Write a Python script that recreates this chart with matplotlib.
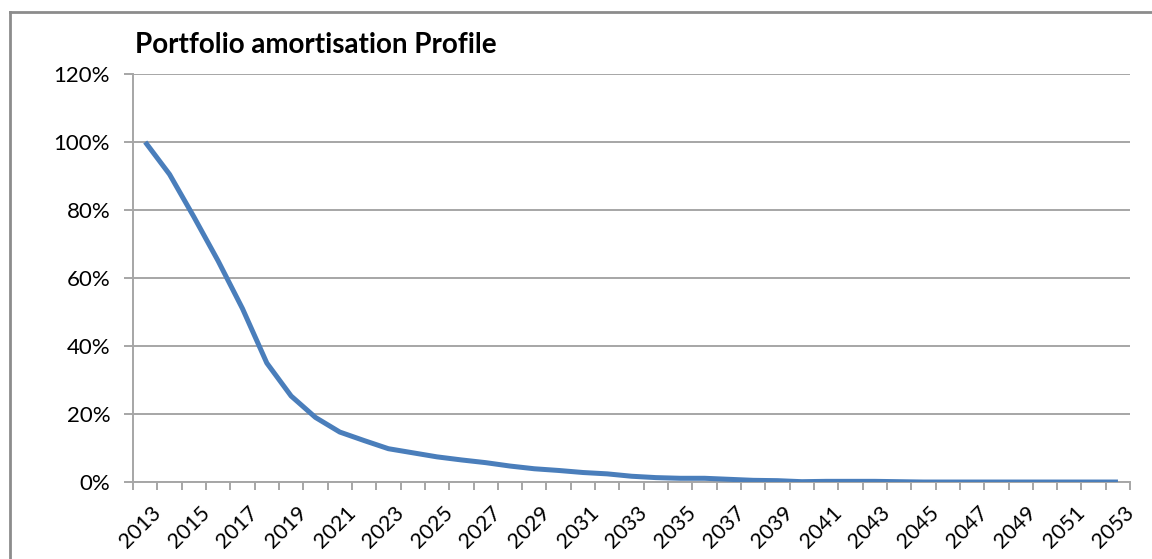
import numpy as np
import matplotlib
matplotlib.use("Agg")
import matplotlib.pyplot as plt
import matplotlib.transforms as mtransforms
from matplotlib.lines import Line2D
from matplotlib.ticker import FixedLocator, FuncFormatter

years = list(range(2013, 2054))
remaining = [100.0, 90.5, 78.0, 65.0, 51.0, 35.0, 25.3, 19.0, 14.7, 12.2, 9.8,
             8.6, 7.4, 6.5, 5.7, 4.7, 3.9, 3.4, 2.8, 2.4, 1.7, 1.3, 1.1, 1.1,
             0.8, 0.5, 0.4, 0.1, 0.2, 0.2, 0.2, 0.1, 0.0, 0.0, 0.0, 0.0, 0.0,
             0.0, 0.0, 0.0, 0.0]
yticks = [0, 20, 40, 60, 80, 100, 120]

plt.rcParams['font.family'] = ['Lato', 'DejaVu Sans']

fig = plt.figure(figsize=(11.52, 5.59), dpi=100)
ax = fig.add_axes([0.1155, 0.1377, 0.8655, 0.7299])

x = np.arange(len(years))
ax.plot(x, remaining, color='#4A7EBB', linewidth=3.6, solid_capstyle='butt',
        solid_joinstyle='round', zorder=3)

ax.set_xlim(-0.5, len(years) - 0.5)
ax.set_ylim(0, 120)

ax.yaxis.set_major_locator(FixedLocator(yticks))
ax.yaxis.set_major_formatter(FuncFormatter(lambda v, p: f"{v:.0f}%"))
ax.grid(axis='y', color='#A6A6A6', linewidth=1.4, zorder=0)

# category boundaries carry the tick marks, labels sit on every other category
ax.xaxis.set_minor_locator(FixedLocator(np.arange(-0.5, len(years), 1.0)))
ax.xaxis.set_major_locator(FixedLocator(x[::2]))
ax.set_xticklabels([str(y) for y in years[::2]], rotation=45, ha='right',
                   rotation_mode='anchor')
ax.tick_params(axis='x', which='major', length=0, pad=15, labelsize=15.5)
ax.tick_params(axis='x', which='minor', length=6, width=1.4, color='#A6A6A6')
ax.tick_params(axis='y', length=6.5, width=1.4, color='#A6A6A6', labelsize=16, pad=10)

shift = mtransforms.ScaledTranslation(4 / 72, 0, fig.dpi_scale_trans)
for lbl in ax.get_xticklabels():
    lbl.set_transform(lbl.get_transform() + shift)

for side in ['top', 'right']:
    ax.spines[side].set_visible(False)
for side in ['left', 'bottom']:
    ax.spines[side].set_color('#A6A6A6')
    ax.spines[side].set_linewidth(1.4)

fig.text(0.117, 0.905, "Portfolio amortisation Profile", fontsize=20,
         fontweight='bold', ha='left', va='baseline')

# outer chart frame (only left and top edges visible)
fig.add_artist(Line2D([0.0085, 0.0085], [0.0, 0.979], color='#8C8C8C', linewidth=2,
                      transform=fig.transFigure))
fig.add_artist(Line2D([0.0085, 1.0], [0.979, 0.979], color='#8C8C8C', linewidth=2,
                      transform=fig.transFigure))

fig.savefig("out.png", dpi=100)
